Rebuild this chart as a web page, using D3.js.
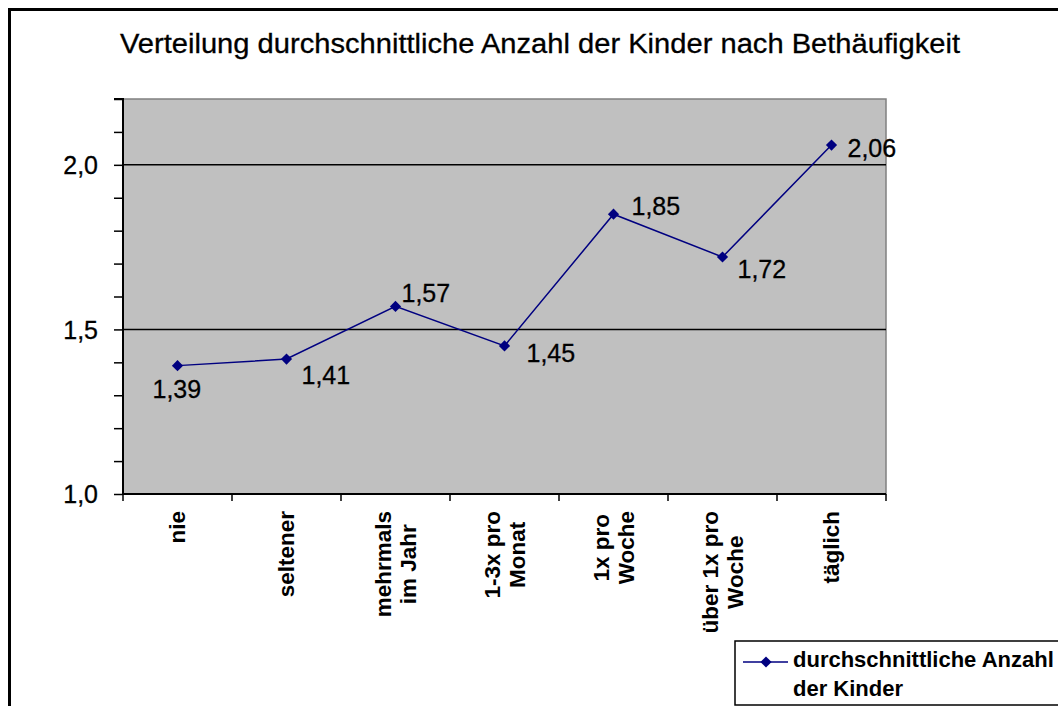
<!DOCTYPE html>
<html><head><meta charset="utf-8">
<script src="https://cdn.jsdelivr.net/npm/d3@7"></script>
<style>
html,body{margin:0;padding:0;background:#fff;}
svg{display:block;}
text{font-family:"Liberation Sans",Arial,sans-serif;fill:#000;}
</style></head>
<body>
<svg id="chart" width="1058" height="706"></svg>
<script>
const title = "Verteilung durchschnittliche Anzahl der Kinder nach Bethäufigkeit";
const categories = [["nie"],["seltener"],["mehrmals","im Jahr"],["1-3x pro","Monat"],["1x pro","Woche"],["über 1x pro","Woche"],["täglich"]];
const values = [1.39, 1.41, 1.57, 1.45, 1.85, 1.72, 2.06];
const valueLabels = ["1,39","1,41","1,57","1,45","1,85","1,72","2,06"];
const yTickLabels = [1.0, 1.5, 2.0];
const seriesName = ["durchschnittliche Anzahl","der Kinder"];

// layout (label placement as in the reference)
const labelOffsets = [[-25,32],[15,25],[6,-4],[22,16],[18,1],[15,21],[16,12]];

const svg = d3.select("#chart");
const M = {left:123, right:886, top:99, bottom:494};

const x = d3.scaleBand().domain(d3.range(categories.length)).range([M.left, M.right]).padding(0);
const y = d3.scaleLinear().domain([1.0, 2.2]).range([M.bottom, M.top]);

// outer frame
svg.append("rect").attr("x",9.5).attr("y",9.5).attr("width",1100).attr("height",800)
  .attr("fill","none").attr("stroke","#000").attr("stroke-width",3);

// title
svg.append("text").attr("x",540).attr("y",53).attr("text-anchor","middle")
  .attr("font-size",27).attr("textLength",840).attr("lengthAdjust","spacingAndGlyphs")
  .attr("stroke","#000").attr("stroke-width",0.3).text(title);

// plot area
svg.append("rect").attr("x",M.left).attr("y",M.top).attr("width",M.right-M.left).attr("height",M.bottom-M.top)
  .attr("fill","#c0c0c0").attr("stroke","#808080").attr("stroke-width",1.5);

// gridlines
svg.append("g").selectAll("line").data([1.5,2.0]).join("line")
  .attr("x1",M.left).attr("x2",M.right).attr("y1",d=>y(d)).attr("y2",d=>y(d))
  .attr("stroke","#000").attr("stroke-width",1.5);

// y axis
const yTicks = d3.range(10,23).map(d=>d/10);
const yAxis = d3.axisLeft(y).tickValues(yTicks).tickSize(9).tickPadding(16)
  .tickFormat(d => yTickLabels.some(v=>Math.abs(v-d)<1e-9) ? d3.format(".1f")(d).replace(".",",") : "");
const gy = svg.append("g").attr("transform",`translate(${M.left},0)`).call(yAxis);
gy.select(".domain").attr("stroke","#000").attr("stroke-width",2).attr("d",`M-9,${M.top}H0V${M.bottom}`);
gy.selectAll(".tick line").attr("stroke","#000").attr("stroke-width",1.5);
gy.selectAll(".tick text").attr("font-size",25).attr("font-family","Liberation Sans, Arial, sans-serif")
  .attr("fill","#000").attr("stroke","#000").attr("stroke-width",0.3).attr("dy","0.35em");

// x axis
const xAxis = d3.axisBottom(x).tickSize(0).tickFormat("");
const gx = svg.append("g").attr("transform",`translate(0,${M.bottom})`).call(xAxis);
gx.select(".domain").attr("stroke","#000").attr("stroke-width",2).attr("d",`M${M.left},0H${M.right}`);
const bounds = d3.range(categories.length+1).map(i => M.left + i*x.bandwidth());
gx.append("g").selectAll("line").data(bounds).join("line")
  .attr("x1",d=>d).attr("x2",d=>d).attr("y1",0).attr("y2",7).attr("stroke","#000").attr("stroke-width",1.5);

// category labels (rotated, multi-line, centered lines, block anchored at top)
const lineGap = 25, topY = 511;
categories.forEach((lines,i) => {
  const cx = x(i) + x.bandwidth()/2;
  const g = svg.append("g");
  const n = lines.length;
  const ts = lines.map((ln,j) => {
    const lx = cx + (j - (n-1)/2)*lineGap;
    return g.append("text").attr("font-size",22.5).attr("font-weight","bold")
      .attr("dominant-baseline","central").attr("text-anchor","middle").text(ln).datum(lx);
  });
  const L = d3.max(ts, t => t.node().getComputedTextLength());
  const cy = topY + L/2;
  ts.forEach(t => {
    const lx = t.datum();
    t.attr("transform",`translate(${lx},${cy}) rotate(-90)`);
  });
});

// line
const line = d3.line().x((d,i)=>x(i)+x.bandwidth()/2).y(d=>y(d));
svg.append("path").datum(values).attr("d",line).attr("fill","none").attr("stroke","#000080").attr("stroke-width",1.5);

// markers
const diamond = d3.symbol().type(d3.symbolDiamond2).size(80);
svg.append("g").selectAll("path").data(values).join("path")
  .attr("d",diamond).attr("transform",(d,i)=>`translate(${x(i)+x.bandwidth()/2},${y(d)})`)
  .attr("fill","#000080");

// value labels
svg.append("g").selectAll("text").data(values).join("text")
  .attr("x",(d,i)=>x(i)+x.bandwidth()/2+labelOffsets[i][0])
  .attr("y",(d,i)=>y(d)+labelOffsets[i][1])
  .attr("font-size",25).attr("stroke","#000").attr("stroke-width",0.3).text((d,i)=>valueLabels[i]);

// legend
const lg = svg.append("g");
lg.append("rect").attr("x",735).attr("y",641).attr("width",400).attr("height",64)
  .attr("fill","#fff").attr("stroke","#000").attr("stroke-width",1.5);
lg.append("line").attr("x1",743).attr("x2",788).attr("y1",662).attr("y2",662).attr("stroke","#000080").attr("stroke-width",1.5);
lg.append("path").attr("d",diamond).attr("transform","translate(766,662)").attr("fill","#000080");
seriesName.forEach((s,i)=>{
  lg.append("text").attr("x",793).attr("y",667+i*29).attr("font-size",22).attr("font-weight","bold").text(s);
});
</script>
</body></html>
